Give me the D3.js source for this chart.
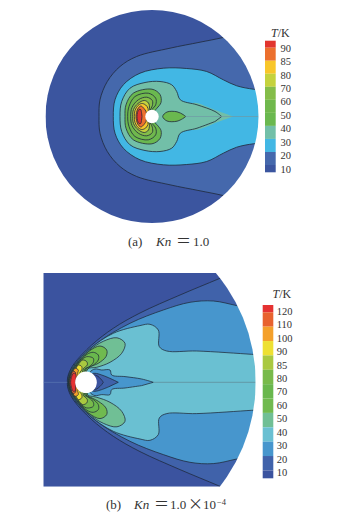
<!DOCTYPE html>
<html lang="en">
<head>
    <meta charset="UTF-8">
    <title>Temperature contours</title>
    <style>
        body {
            margin: 0;
            background-color: #ffffff;
        }

        text {
            font-family: "Liberation Serif", serif;
            fill: #333333;
        }

        text.tick_label {
            font-size: 10.5px;
        }

        text.bar_title {
            font-size: 12px;
        }

        text.caption {
            font-size: 13px;
        }
    </style>
    <script type="text/javascript" src="https://cdn.jsdelivr.net/npm/d3@7"></script>
</head>
<body>
<div id="chart"></div>
<script type="text/javascript">
    // colour bar levels, top to bottom
    const labelsA = [90, 85, 80, 70, 60, 50, 40, 30, 20, 10];
    const colorsA = ["#e2352e", "#ec6f2d", "#f8c62c", "#c5d23e", "#84bd4a", "#70b84d", "#6bb84f", "#72bfa8", "#42b7e4", "#4568ac", "#3a549f"];
    const labelsB = [120, 110, 100, 90, 85, 80, 70, 60, 50, 40, 30, 20, 10];
    const colorsB = ["#e53030", "#e8622f", "#f4a02c", "#eee032", "#a9c93f", "#78ba4b", "#69b74d", "#6fba4f", "#70bf95", "#6bc0d2", "#4696cd", "#3f62aa", "#3a529f"];

    // upper half of each isotherm, [x, r], centre of the body at 0,0
    // panel (a), outermost first
    const a20 = [[-53, 0], [-52, 16.7], [-44.7, 35], [-32, 50], [-15.3, 60], [18, 68.3], [48, 74.3], [71, 79], [112, 90]];
    const a30 = [[-38.7, 0], [-37, 16.7], [-28.7, 31.7], [-12, 43.3], [11.3, 48.3], [34.7, 48], [54.7, 45], [71.3, 36.7], [84.7, 30.7], [101.3, 27.3], [112, 26.5]];
    const a40tip = [[40, 13], [63, 6.5], [81, 0]];
    const a40 = [[-32, 0], [-30.3, 15], [-22, 28.3], [-7, 34], [8, 35], [19.7, 31.7], [24.7, 25], [28.3, 16.7], [45, 11.7], [63, 5], [69.7, 0]];
    const a50 = [[-27, 0], [-26, 11.7], [-18.7, 23.3], [0, 27.3], [8, 22], [9, 14], [4.7, 8], [-3, 0]];
    const a60 = [[-24.3, 0], [-23, 10], [-17, 20], [-3.7, 23.3], [3.7, 18.3], [3.7, 11.7], [0.3, 7.3], [-3, 0]];
    const a70 = [[-21.3, 0], [-20, 9], [-13.7, 16.7], [-5.3, 19.3], [0.3, 16], [0.3, 10.7], [-2, 6], [-3, 0]];
    const a80 = [[-19.3, 0], [-18.5, 7], [-14, 13], [-7.7, 16], [-3.5, 13.5], [-2.5, 8], [-4, 0]];
    const a85 = [[-17.7, 0], [-17, 6], [-14, 11], [-10.3, 13], [-6.3, 11.5], [-4, 8], [-4, 0]];
    const a90 = [[-16, 0], [-15.5, 4], [-13.7, 8.5], [-11, 10.5], [-8, 8], [-6, 5], [-5, 0]];
    const a95 = [[-15, 0], [-14.5, 4], [-13, 7], [-11.3, 7], [-10.5, 4], [-10, 0]];
    const aLens = [[10.7, 0], [15, 4.5], [25, 4.7], [31, 2], [33.7, 0]];
    const aAxis = [[33.7, 0], [106.5, 0]];

    // panel (b), outermost first
    const b20 = [[-18.7, 0], [-17.5, 8], [-12, 18.5], [5.7, 37.3], [27.3, 54], [54, 69.3], [94, 87.3], [132.3, 103.3], [155, 113]];
    const b30 = [[-18.2, 0], [-17, 8], [-11.2, 18.2], [10.7, 39], [44, 59], [77.3, 72.3], [104, 80], [127.3, 81.3], [150.7, 76.7], [172, 72]];
    const b40 = [[-17.8, 0], [-16.5, 8], [-10.6, 18], [4, 33.5], [27.3, 49], [54, 56.7], [64, 58], [72.3, 52.3], [73.3, 35.7], [80.7, 31.3], [110.7, 31.3], [165.7, 28], [175, 27.5]];
    const b50 = [[-17.6, 0], [-16.2, 8], [-10, 18], [3.5, 32], [17.3, 41], [31, 44.5], [39, 39], [35.7, 29], [24, 20], [10.7, 15], [1.3, 13.3], [-3, 0]];
    const b60 = [[-17.4, 0], [-15.8, 8], [-9.5, 18], [3, 31], [14, 36.3], [20.7, 32.3], [20, 25.7], [12.3, 19], [2.3, 14], [-3, 0]];
    const b70 = [[-17.2, 0], [-15.5, 8], [-9, 18], [1, 28], [7.3, 30], [12.3, 27.3], [12.3, 22.3], [7.3, 17.3], [0.7, 14], [-3, 0]];
    const b80 = [[-17, 0], [-15.2, 8], [-8.5, 18], [-1, 25], [2.3, 25.7], [7.3, 24], [7.3, 20], [3.3, 15.7], [-1, 13.3], [-3, 0]];
    const b85 = [[-16.8, 0], [-15, 8], [-8, 17.5], [-3.3, 22.3], [0.7, 20.7], [1.3, 17.3], [-2.7, 13.3], [-4, 0]];
    const b90 = [[-16.6, 0], [-14.8, 8], [-10, 14], [-7.7, 17.3], [-4.3, 15.7], [-4.3, 12.3], [-6, 10], [-5, 0]];
    const b100 = [[-16.5, 0], [-14.6, 7], [-11, 14], [-7.7, 12.3], [-8.3, 9], [-6, 0]];
    const b110 = [[-16.2, 0], [-15.2, 6], [-13, 11], [-10.5, 10], [-11, 4], [-8, 0]];
    const b120 = [[-15.4, 0], [-14.6, 5], [-12.7, 9], [-10.3, 8.5], [-10, 0]];
    const bWake30 = [[4, 0], [4, 10], [9, 13.3], [15.7, 12.3], [24, 12.3], [25.7, 7.3], [39, 5.7], [55.7, 3.3], [67.3, 0]];
    const bWake20 = [[4, 0], [5, 8], [9, 9], [15.7, 7.3], [22.3, 4.7], [32.3, 0]];
    const bWake10 = [[4, 0], [6, 7], [10.7, 6.7], [15.7, 2.3], [17.3, 0]];
    const bAxis = [[67.3, 0], [169.7, 0]];
    const bAxisFront = [[-42.7, 0], [-18.7, 0]];

    const lineColor = "#1f2a3a";

    const svg = d3.select("#chart").append("svg")
        .attr("width", 350)
        .attr("height", 520);

    const defs = svg.append("defs");
    defs.append("filter").attr("id", "soft")
        .append("feGaussianBlur").attr("stdDeviation", 0.25);

    function drawField(opts) {
        var x = d3.scaleLinear().domain(opts.xDomain).range(opts.xRange);
        var y = d3.scaleLinear().domain(opts.yDomain).range(opts.yRange);
        var r = function (v) { return Math.abs(x(v) - x(0)); };

        var line = d3.line()
            .x(function (d) { return x(d[0]); })
            .y(function (d) { return y(d[1]); })
            .curve(d3.curveCatmullRom.alpha(0.5));

        // close a half profile over the symmetry axis
        var closed = function (half) {
            var lower = half.slice().reverse()
                .filter(function (d) { return d[1] !== 0; })
                .map(function (d) { return [d[0], -d[1]]; });
            return line(lower.concat(half)) + "Z";
        };

        defs.append("clipPath").attr("id", opts.id + "-disc")
            .append("circle")
            .attr("cx", x(0)).attr("cy", y(0)).attr("r", r(opts.radius));
        defs.append("clipPath").attr("id", opts.id + "-box")
            .append("rect")
            .attr("x", x(opts.xDomain[0])).attr("y", y(opts.yDomain[1]))
            .attr("width", x(opts.xDomain[1]) - x(opts.xDomain[0]))
            .attr("height", y(opts.yDomain[0]) - y(opts.yDomain[1]));

        var g = svg.append("g")
            .attr("clip-path", "url(#" + opts.id + "-box)")
            .append("g")
            .attr("clip-path", "url(#" + opts.id + "-disc)")
            .append("g")
            .attr("filter", "url(#soft)");

        g.append("rect")
            .attr("x", x(opts.xDomain[0])).attr("y", y(opts.yDomain[1]))
            .attr("width", x(opts.xDomain[1]) - x(opts.xDomain[0]))
            .attr("height", y(opts.yDomain[0]) - y(opts.yDomain[1]))
            .style("fill", opts.background);

        g.selectAll("path.band")
            .data(opts.bands)
            .enter().append("path")
            .attr("class", "band")
            .attr("d", function (d) { return closed(d.profile); })
            .style("fill", function (d) { return d.fill; })
            .style("stroke", function (d) { return d.noLine ? "none" : lineColor; })
            .style("stroke-width", opts.lineWidth);

        g.selectAll("path.axis_line")
            .data(opts.axisLines)
            .enter().append("path")
            .attr("class", "axis_line")
            .attr("d", function (d) {
                return d3.line().x(function (k) { return x(k[0]); }).y(function (k) { return y(k[1]); })(d.points);
            })
            .style("fill", "none")
            .style("stroke", function (d) { return d.color; })
            .style("stroke-width", 0.7);

        svg.append("circle")
            .attr("cx", x(0)).attr("cy", y(0)).attr("r", r(opts.bodyRadius))
            .style("fill", "#ffffff");
    }

    function drawBar(opts) {
        var n = opts.colors.length;
        var bandY = d3.scaleLinear().domain([1, n - 1]).range(opts.stopRange);
        var labelY = d3.scalePoint().domain(opts.labels).range(opts.labelRange);
        var g = svg.append("g");

        g.selectAll("rect")
            .data(opts.colors)
            .enter().append("rect")
            .attr("x", opts.x)
            .attr("width", opts.width)
            .attr("y", function (d, i) { return i === 0 ? opts.top : bandY(i); })
            .attr("height", function (d, i) {
                var y0 = i === 0 ? opts.top : bandY(i);
                var y1 = i === n - 1 ? opts.bottom : bandY(i + 1);
                return y1 - y0;
            })
            .style("fill", function (d) { return d; })
            .attr("filter", "url(#soft)");

        g.selectAll("text.tick_label")
            .data(opts.labels)
            .enter().append("text")
            .attr("class", "tick_label")
            .attr("x", opts.labelX)
            .attr("y", function (d) { return labelY(d) + 3.5; })
            .text(function (d) { return d; });

        var title = g.append("text")
            .attr("class", "bar_title")
            .attr("x", opts.titleX)
            .attr("y", opts.titleY);
        title.append("tspan").style("font-style", "italic").text("T");
        title.append("tspan").text("/K");
    }

    // caption pieces are placed one by one, the original is typeset with wide gaps
    function drawCaption(y, parts) {
        var cap = svg.append("text").attr("class", "caption").attr("y", y);
        parts.forEach(function (p) {
            var t = cap.append("tspan").attr("x", p.x).text(p.text);
            if (p.italic) t.style("font-style", "italic");
            if (p.wide) t.style("font-family", '"Noto Sans CJK SC"').style("font-size", "15px");
            if (p.sup) t.attr("dy", -4).style("font-size", "8.5px");
        });
    }

    drawField({
        id: "a",
        xDomain: [-106.5, 106.5], xRange: [45.5, 258.5],
        yDomain: [-106.5, 106.5], yRange: [223, 10],
        radius: 106.5, bodyRadius: 6.7,
        background: colorsA[10], lineWidth: 0.8,
        bands: [
            {profile: a20, fill: colorsA[9]},
            {profile: a30, fill: colorsA[8]},
            {profile: a40tip, fill: colorsA[7], noLine: true},
            {profile: a40, fill: colorsA[7]},
            {profile: a50, fill: colorsA[6]},
            {profile: a60, fill: colorsA[5]},
            {profile: a70, fill: colorsA[4]},
            {profile: a80, fill: colorsA[3]},
            {profile: a85, fill: colorsA[2]},
            {profile: a90, fill: colorsA[1]},
            {profile: a95, fill: colorsA[0]},
            {profile: aLens, fill: colorsA[6]}
        ],
        axisLines: [{points: aAxis, color: "#6f9aa5"}]
    });

    drawBar({
        labels: labelsA, colors: colorsA,
        x: 265, width: 10.7, top: 40.7, bottom: 172.3,
        stopRange: [47.7, 165],
        labelX: 280.5, labelRange: [48.3, 169],
        titleX: 271, titleY: 36.5
    });

    drawField({
        id: "b",
        xDomain: [-42.7, 169.7], xRange: [43.3, 255.7],
        yDomain: [-104.4, 109.3], yRange: [486.7, 273],
        radius: 169.7, bodyRadius: 10.8,
        background: colorsB[12], lineWidth: 0.75,
        bands: [
            {profile: b20, fill: colorsB[11]},
            {profile: b30, fill: colorsB[10]},
            {profile: b40, fill: colorsB[9]},
            {profile: b50, fill: colorsB[8]},
            {profile: b60, fill: colorsB[7]},
            {profile: b70, fill: colorsB[6]},
            {profile: b80, fill: colorsB[5]},
            {profile: b85, fill: colorsB[4]},
            {profile: b90, fill: colorsB[3]},
            {profile: b100, fill: colorsB[2]},
            {profile: b110, fill: colorsB[1]},
            {profile: b120, fill: colorsB[0]},
            {profile: bWake30, fill: colorsB[10]},
            {profile: bWake20, fill: colorsB[11]},
            {profile: bWake10, fill: colorsB[12]}
        ],
        axisLines: [
            {points: bAxis, color: "#5f8794"},
            {points: bAxisFront, color: "#5d78b5"}
        ]
    });

    drawBar({
        labels: labelsB, colors: colorsB,
        x: 262.7, width: 10.6, top: 305, bottom: 478.3,
        stopRange: [312.3, 470.4],
        labelX: 276.7, labelRange: [311.3, 472.5],
        titleX: 272.5, titleY: 298
    });

    drawCaption(246, [
        {x: 128, text: "(a)"},
        {x: 156, text: "Kn", italic: true},
        {x: 176, text: "\uff1d", wide: true},
        {x: 193, text: "1.0"}
    ]);
    drawCaption(509, [
        {x: 106, text: "(b)"},
        {x: 134, text: "Kn", italic: true},
        {x: 154, text: "\uff1d", wide: true},
        {x: 170, text: "1.0"},
        {x: 188, text: "\u00d7", wide: true},
        {x: 203, text: "10"},
        {x: 217, text: "\u22124", sup: true}
    ]);
</script>
</body>
</html>
